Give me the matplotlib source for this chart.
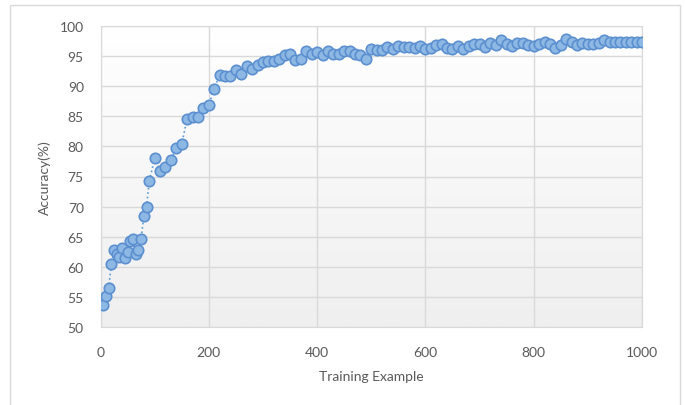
import numpy as np
import matplotlib.pyplot as plt
from matplotlib.patches import Rectangle

plt.rcParams['font.family'] = ['Lato', 'DejaVu Sans']

# training examples seen vs accuracy
examples = [5, 10, 15, 20, 25, 30, 35, 40, 45, 50, 55, 60, 65, 70, 75, 80, 85, 90, 100,
            110, 120, 130, 140, 150, 160, 170, 180, 190, 200,
            210, 220, 230, 240, 250, 260, 270, 280, 290, 300,
            310, 320, 330, 340, 350, 360, 370, 380, 390, 400,
            410, 420, 430, 440, 450, 460, 470, 480, 490, 500,
            510, 520, 530, 540, 550, 560, 570, 580, 590, 600,
            610, 620, 630, 640, 650, 660, 670, 680, 690, 700,
            710, 720, 730, 740, 750, 760, 770, 780, 790, 800,
            810, 820, 830, 840, 850, 860, 870, 880, 890, 900,
            910, 920, 930, 940, 950, 960, 970, 980, 990, 1000]
accuracy = [53.6, 55.2, 56.4, 60.4, 62.8, 62.2, 61.6, 63.2, 61.5, 62.5, 64.3, 64.7, 62.1, 62.8, 64.7, 68.4, 70.0, 74.2, 78.0,
            75.9, 76.5, 77.7, 79.8, 80.4, 84.6, 84.9, 84.9, 86.4, 86.8,
            89.6, 91.9, 91.7, 91.7, 92.7, 92.0, 93.3, 92.9, 93.6, 94.0,
            94.2, 94.2, 94.6, 95.1, 95.4, 94.4, 94.5, 95.8, 95.4, 95.7,
            95.2, 95.8, 95.4, 95.4, 95.8, 95.8, 95.3, 95.2, 94.6, 96.2,
            96.0, 96.0, 96.5, 96.2, 96.6, 96.5, 96.5, 96.4, 96.7, 96.2,
            96.4, 96.8, 97.0, 96.4, 96.2, 96.6, 96.1, 96.6, 97.0, 97.0,
            96.5, 97.1, 96.9, 97.6, 97.0, 96.6, 97.2, 97.2, 96.9, 96.6,
            97.0, 97.4, 97.0, 96.3, 96.8, 97.8, 97.3, 96.8, 97.1, 97.0,
            97.0, 97.2, 97.6, 97.3, 97.4, 97.3, 97.3, 97.3, 97.4, 97.4]

fig = plt.figure(figsize=(6.85, 4.06), dpi=100)
fig.patches.append(Rectangle((10 / 685, -0.01), 670 / 685, 1 - 6 / 406 + 0.01,
                             transform=fig.transFigure, fill=False,
                             edgecolor='#d9d9d9', linewidth=1))

ax = fig.add_axes([100.5 / 685, 1 - 328 / 406, 541.5 / 685, 301 / 406])

# soft vertical gradient in the plot area
grad = np.linspace(0, 1, 256).reshape(-1, 1)
ax.imshow(grad, extent=(0, 1, 0, 1), transform=ax.transAxes, aspect='auto',
          cmap=plt.matplotlib.colors.LinearSegmentedColormap.from_list('bg', ['#ffffff', '#efefef']),
          origin='upper', zorder=0)

ax.plot(examples, accuracy, linestyle=':', color='#5b9bd5', linewidth=1.2,
        marker='o', markersize=7.5, markerfacecolor='#8db8e4',
        markeredgecolor='#5b8fd0', markeredgewidth=1.2, zorder=3)

ax.set_xlim(0, 1000)
ax.set_ylim(50, 100)
ax.set_xticks(range(0, 1001, 200))
ax.set_yticks(range(50, 101, 5))
ax.grid(True, color='#d9d9d9', linewidth=1)
ax.set_axisbelow(True)
for s in ax.spines.values():
    s.set_color('#d9d9d9')
ax.tick_params(length=0, labelsize=10, labelcolor='#595959', pad=12)
ax.tick_params(axis='x', pad=14)

ax.set_xlabel('Training Example', fontsize=10, color='#595959', labelpad=8)
ax.set_ylabel('Accuracy(%)', fontsize=10, color='#595959', labelpad=6)

fig.savefig('out.png', dpi=100)
